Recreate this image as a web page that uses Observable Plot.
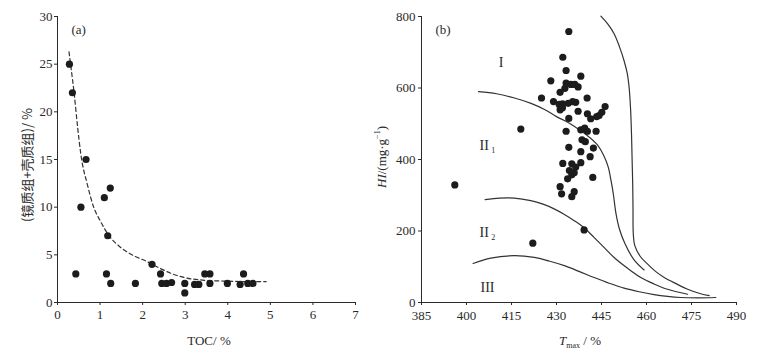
<!DOCTYPE html>
<html><head><meta charset="utf-8">
<script src="https://cdn.jsdelivr.net/npm/d3@7"></script>
<script src="https://cdn.jsdelivr.net/npm/@observablehq/plot@0.6"></script>
<style>
body{margin:0;background:#fff;}
#wrap{position:relative;width:773px;height:356px;overflow:hidden;background:#fff;}
#a,#b{position:absolute;top:0;}
#a{left:0;} #b{left:360px;}
</style></head><body><div id="wrap"><div id="a"></div><div id="b"></div></div>
<script>
// ---------- Panel (a) data ----------
const tocPct = [0.28,0.35,0.43,0.55,0.67,1.10,1.15,1.18,1.24,1.25,1.83,2.22,2.42,2.45,2.56,2.68,2.99,2.99,3.22,3.32,3.46,3.58,3.58,3.99,4.29,4.37,4.47,4.59];
const macPct = [25,22,3,10,15,11,3,7,12,2,2,4,3,2,2,2.1,2,1,1.9,1.9,3,3,2,2,1.9,3,2,2];
const fitTOC = [0.27,0.33,0.39,0.47,0.55,0.7,0.85,1.0,1.21,1.45,1.75,2.1,2.4,2.7,3.0,3.4,3.9,4.4,4.9];
const fitVal = [26.3,24.2,22,18.5,15.5,12.4,10,8.6,7,5.9,5.0,4.3,3.6,3.0,2.6,2.35,2.25,2.2,2.2];
const ticksTOC = [0,1,2,3,4,5,6,7];
const ticksMac = [0,5,10,15,20,25,30];

// ---------- Panel (b) data ----------
const tmax = [434.1,432.1,433.2,438.1,428.1,433.2,434.8,436.1,437.2,432.8,431.2,425.0,440.2,429.0,430.9,432.0,433.9,435.4,436.4,431.2,432.0,437.2,434.1,440.3,441.4,443.4,444.2,445.1,446.2,418.1,433.2,438.1,439.4,440.3,443.2,438.5,439.6,434.1,442.3,438.1,441.2,432.1,435.1,438.1,434.3,435.9,435.1,433.7,436.4,442.1,431.2,431.7,435.9,435.1,439.2,422.1,396.1];
const hiVal = [758,686,649,633,620,614,610,610,603,599,588,572,572,562,554,556,557,562,560,539,545,535,515,528,514,520,523,532,548,485,479,483,488,479,479,455,450,434,432,422,408,389,388,391,369,363,357,346,379,350,324,304,310,296,203,166,329];
// boundary curves
const curveI_T  = [404,410,416,421.5,426,430,434,438,441,443.7,445.7,447.2,448.2,449,449.8,451,452.8,455.8,459.2];
const curveI_HI = [590,584,572,557,540,520,503,481,462,440,412,380,340,300,250,205,165,120,91];
const curveV_T  = [444.8,447,449.2,451,452.5,453.6,454.2,454.7,455,455.2,455.4,455.5,455.6,456.1,458,460.3,463,465.9,470,473.7,477.5,480.9];
const curveV_HI = [801,780,752,715,677,640,602,540,472,400,332,260,192,159,128,108,87,70,52,37,26,19];
const curveII_T  = [406.2,411,415.9,421.4,425.5,429.2,432.5,435.9,439.5,442.5,446,449.2,453.5,458.1,462.5,467,473.7];
const curveII_HI = [288,292,292,285,275,262,247,229,207,182,153,126,97,70,52,37,23];
const curveIII_T  = [402.2,408.1,415.9,422.6,427.5,432.6,437.5,442.5,447.5,452.5,457.5,462.5,467,471.4,477,483.1];
const curveIII_HI = [109,124,131,126,116,103,87,70,54,40,30,22,17,14,13,14];
const typeNames = ["I","II","II","III"];
const typeSubs  = ["","1","2",""];
const typeT  = [411.5,405.9,405.9,407];
const typeHI = [672,439,196,42];
const ticksT = [385,400,415,430,445,460,475,490];
const ticksHI = [0,200,400,600,800];

const ink = "#2a2a2a";
const serif = "'Liberation Serif','Times New Roman',serif";
const cjk = "'Noto Sans CJK SC','Noto Sans',sans-serif";
const zip2 = (xs, ys) => xs.map((x, i) => ({x, y: ys[i]}));
const plain = d => String(d);

// ---------- Panel (a) ----------
const chartA = Plot.plot({
  width: 380, height: 356,
  marginLeft: 57, marginRight: 25, marginTop: 16, marginBottom: 54,
  style: {fontFamily: serif, fontSize: "13px", color: ink, background: "transparent"},
  x: {domain: [0, 7], ticks: ticksTOC, tickFormat: plain, label: null, tickSize: 3, tickPadding: 4},
  y: {domain: [0, 30], ticks: ticksMac, tickFormat: plain, label: null, tickSize: 3, tickPadding: 2},
  marks: [
    Plot.ruleX([0], {stroke: ink, strokeWidth: 1}),
    Plot.ruleY([0], {stroke: ink, strokeWidth: 1}),
    Plot.line(zip2(fitTOC, fitVal), {x: "x", y: "y", stroke: "#333", strokeWidth: 1.2, strokeDasharray: "4,3", curve: "monotone-x"}),
    Plot.dot(zip2(tocPct, macPct), {x: "x", y: "y", r: 3.6, fill: "#1c1c1c"}),
    Plot.text(["(a)"], {frameAnchor: "top-left", dx: 14, dy: 8, fontSize: 13, fontFamily: serif, fill: ink})
  ]
});
document.getElementById("a").append(chartA);
{
  const svg = d3.select(chartA.tagName === "svg" ? chartA : chartA.querySelector("svg"));
  svg.append("text").attr("x", 209).attr("y", 345).attr("text-anchor", "middle")
    .attr("font-family", serif).attr("font-size", 13).attr("fill", ink).text("TOC/ %");
  svg.append("text").attr("transform", "translate(28,165) rotate(-90)").attr("text-anchor", "middle")
    .attr("dominant-baseline", "middle").attr("font-family", cjk).attr("font-size", 13).attr("fill", ink)
    .text("(镜质组+壳质组)/ %");
}

// ---------- Panel (b) ----------
const chartB = Plot.plot({
  width: 413, height: 356,
  marginLeft: 61, marginRight: 37, marginTop: 16, marginBottom: 54,
  style: {fontFamily: serif, fontSize: "13px", color: ink, background: "transparent"},
  x: {domain: [385, 490], ticks: ticksT, tickFormat: plain, label: null, tickSize: 3, tickPadding: 5},
  y: {domain: [0, 800], ticks: ticksHI, tickFormat: plain, label: null, tickSize: 3, tickPadding: 3},
  marks: [
    Plot.ruleX([385], {stroke: ink, strokeWidth: 1}),
    Plot.ruleY([0], {stroke: ink, strokeWidth: 1}),
    Plot.line(zip2(curveI_T, curveI_HI), {x: "x", y: "y", stroke: "#333", strokeWidth: 1.2, curve: "catmull-rom"}),
    Plot.line(zip2(curveV_T, curveV_HI), {x: "x", y: "y", stroke: "#333", strokeWidth: 1.2, curve: "catmull-rom"}),
    Plot.line(zip2(curveII_T, curveII_HI), {x: "x", y: "y", stroke: "#333", strokeWidth: 1.2, curve: "catmull-rom"}),
    Plot.line(zip2(curveIII_T, curveIII_HI), {x: "x", y: "y", stroke: "#333", strokeWidth: 1.2, curve: "catmull-rom"}),
    Plot.dot(zip2(tmax, hiVal), {x: "x", y: "y", r: 3.6, fill: "#1c1c1c"}),
    Plot.text(typeNames, {x: (d, i) => typeT[i], y: (d, i) => typeHI[i], text: d => d, fontSize: 14, fontFamily: serif, fill: ink}),
    Plot.text(typeSubs, {x: (d, i) => typeT[i], y: (d, i) => typeHI[i], text: d => d, dx: 9, dy: 5, fontSize: 8, fontFamily: serif, fill: ink}),
    Plot.text(["(b)"], {frameAnchor: "top-left", dx: 14, dy: 8, fontSize: 13, fontFamily: serif, fill: ink})
  ]
});
document.getElementById("b").append(chartB);
{
  const svg = d3.select(chartB.tagName === "svg" ? chartB : chartB.querySelector("svg"));
  const xl = svg.append("text").attr("x", 220).attr("y", 345).attr("text-anchor", "middle")
    .attr("font-family", serif).attr("font-size", 13).attr("fill", ink);
  xl.append("tspan").attr("font-style", "italic").text("T");
  xl.append("tspan").attr("font-size", 8).attr("dy", 3).text("max");
  xl.append("tspan").attr("dy", -3).text(" / %");
  const yl = svg.append("text").attr("transform", "translate(23,157) rotate(-90)").attr("text-anchor", "middle")
    .attr("dominant-baseline", "middle").attr("font-family", serif).attr("font-size", 13).attr("fill", ink);
  yl.append("tspan").attr("font-style", "italic").text("HI");
  yl.append("tspan").text("/(mg·g");
  yl.append("tspan").attr("font-size", 8).attr("dy", -5).text("−1");
  yl.append("tspan").attr("dy", 5).text(")");
}
</script></body></html>
